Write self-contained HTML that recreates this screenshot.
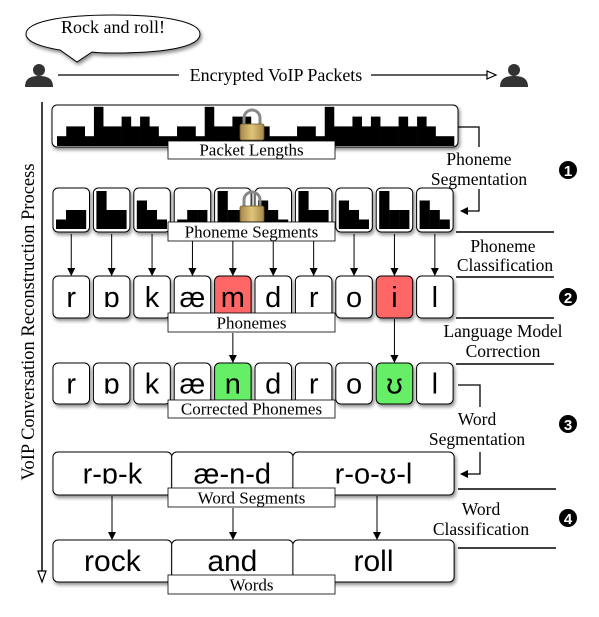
<!DOCTYPE html>
<html><head><meta charset="utf-8">
<style>
html,body{margin:0;padding:0;background:#fff;}
svg{display:block;}
.serif{font-family:"Liberation Serif",serif;}
.sans{font-family:"Liberation Sans","DejaVu Sans",sans-serif;}
</style></head>
<body>
<svg id="d" width="599" height="617" viewBox="0 0 599 617" xmlns="http://www.w3.org/2000/svg">
<defs>
<filter id="sh" x="-10%" y="-10%" width="130%" height="140%"><feDropShadow dx="1.5" dy="2.5" stdDeviation="1.8" flood-color="#000" flood-opacity="0.45"/></filter>
<linearGradient id="lockg" x1="0" x2="1"><stop offset="0" stop-color="#a8884a"/><stop offset="0.5" stop-color="#e0c47c"/><stop offset="1" stop-color="#a8884a"/></linearGradient>
<marker id="ah" markerWidth="8" markerHeight="8" refX="7" refY="4" orient="auto" markerUnits="userSpaceOnUse"><path d="M0,0 L8,4 L0,8 z" fill="#000"/></marker>
</defs>

<g>
<path d="M60,50 C30,45 26,38 26,34 C26,22 60,15 113,15 C166,15 200,22 200,34 C200,46 170,53 113,53 C105,53 98,53 92,52 L77,62 Z" fill="#fff" stroke="#000" stroke-width="1" filter="url(#sh)"/>
<text x="113" y="33" text-anchor="middle" class="serif" font-size="18">Rock and roll!</text>
</g>

<g fill="#333">
<circle cx="39" cy="70" r="6"/><path d="M25,87 C25,78 31,76 39,76 C47,76 53,78 53,87 Z"/>
</g>
<g fill="#333">
<circle cx="514" cy="70" r="6"/><path d="M500,87 C500,78 506,76 514,76 C522,76 528,78 528,87 Z"/>
</g>
<line x1="58" y1="75" x2="179" y2="75" stroke="#000" stroke-width="1.3"/>
<text x="276" y="81" text-anchor="middle" class="serif" font-size="18">Encrypted VoIP Packets</text>
<line x1="371" y1="75" x2="488" y2="75" stroke="#000" stroke-width="1.3"/>
<path d="M487,71 L496,75 L487,79 Z" fill="#fff" stroke="#000" stroke-width="1.2"/>

<g>
<line x1="42" y1="102" x2="42" y2="580" stroke="#000" stroke-width="1.5"/>
<path d="M38,571 L42,582 L46,571 Z" fill="#fff" stroke="#000" stroke-width="1.2"/>
<text transform="translate(34,322) rotate(-90)" text-anchor="middle" class="serif" font-size="18.5">VoIP Conversation Reconstruction Process</text>
</g>

<g id="packetBox">
<rect x="52" y="105" width="406" height="42" rx="5" fill="#fff" stroke="#000" stroke-width="1" filter="url(#sh)"/>
<g id="packetBars"></g>
</g>

<g id="segRow"></g>
<g id="phonRow"></g>
<g id="corrRow"></g>
<g id="wordSegRow"></g>
<g id="wordRow"></g>
<g id="locks"></g>
<g id="labels"></g>

<g class="serif" font-size="17.5" fill="#000">
<path d="M458,127 H479 V147" fill="none" stroke="#000" stroke-width="1.3"/>
<text x="479" y="165" text-anchor="middle">Phoneme</text>
<text x="479" y="185" text-anchor="middle">Segmentation</text>
<path d="M479,189 V211 H461" fill="none" stroke="#000" stroke-width="1.3" marker-end="url(#ah)"/>
<line x1="456" y1="232" x2="554" y2="232" stroke="#000" stroke-width="1.5"/>
<text x="503" y="252" text-anchor="middle">Phoneme</text>
<text x="505" y="271" text-anchor="middle">Classification</text>
<line x1="456" y1="277" x2="554" y2="277" stroke="#000" stroke-width="1.5"/>
<line x1="456" y1="318" x2="554" y2="318" stroke="#000" stroke-width="1.5"/>
<text x="503" y="337" text-anchor="middle">Language Model</text>
<text x="503" y="357" text-anchor="middle">Correction</text>
<line x1="456" y1="364" x2="554" y2="364" stroke="#000" stroke-width="1.5"/>
<path d="M458,385 H480 V407" fill="none" stroke="#000" stroke-width="1.3"/>
<text x="477" y="425" text-anchor="middle">Word</text>
<text x="477" y="445" text-anchor="middle">Segmentation</text>
<path d="M480,452 V474 H461" fill="none" stroke="#000" stroke-width="1.3" marker-end="url(#ah)"/>
<line x1="458" y1="489" x2="556" y2="489" stroke="#000" stroke-width="1.5"/>
<text x="481" y="515" text-anchor="middle">Word</text>
<text x="481" y="535" text-anchor="middle">Classification</text>
<line x1="458" y1="548" x2="556" y2="548" stroke="#000" stroke-width="1.5"/>
</g>
<g class="sans" font-weight="bold">
<g><circle cx="568" cy="170" r="9"/><text x="568" y="176" text-anchor="middle" fill="#fff" font-size="15">1</text></g>
<g><circle cx="568" cy="297" r="9"/><text x="568" y="303" text-anchor="middle" fill="#fff" font-size="15">2</text></g>
<g><circle cx="568" cy="424" r="9"/><text x="568" y="430" text-anchor="middle" fill="#fff" font-size="15">3</text></g>
<g><circle cx="568" cy="518" r="9"/><text x="568" y="524" text-anchor="middle" fill="#fff" font-size="15">4</text></g>
</g>
</svg>
<script>
// ---- data ----
const packetLevels = [1,2,2,1,4,2,2,3,2,3,2,1,1,2,2,1,4,2,2,3,3,2,2,1,1,1,2,2,1,4,2,2,3,2,3,2,2,3,2,3,2,1,1];
const segmentLevels = [[1,2,2],[4,2,2],[3,2,1],[1,2,2],[4,2,2],[3,2,1],[4,2,2],[3,2,1],[4,2,2],[3,2,1]];
const phonemes = ["r","ɒ","k","æ","m","d","r","o","i","l"];
const corrected = ["r","ɒ","k","æ","n","d","r","o","ʊ","l"];
const wrongIdx = [4,8];
const wordSegs = ["r-ɒ-k","æ-n-d","r-o-ʊ-l"];
const wordSegSpans = [[0,2],[3,5],[6,9]];
const words = ["rock","and","roll"];

const NS="http://www.w3.org/2000/svg";
function el(tag,attrs,parent){const e=document.createElementNS(NS,tag);for(const k in attrs)e.setAttribute(k,attrs[k]);parent.appendChild(e);return e;}
const boxX = i => 53 + i*40.4;
const boxW = 36.5;
const pkX = i => 57 + i*(397/packetLevels.length);
const pkH = v => v*9.8;
const segH = v => v*9.5;

const pb=document.getElementById('packetBars');
const bw=397/packetLevels.length;
packetLevels.forEach((v,i)=>{
  const r=el('rect',{x:pkX(i),y:146-pkH(v),width:bw+0.3,height:pkH(v),fill:'#000'},pb);
  
  
});

const sr=document.getElementById('segRow');
segmentLevels.forEach((lv,i)=>{
  const g=el('g',{},sr);
  
  
  el('rect',{x:boxX(i),y:188,width:boxW,height:44,rx:5,fill:'#fff',stroke:'#000','stroke-width':1,filter:'url(#sh)'},g);
  lv.forEach((v,j)=>{
    const b=el('rect',{x:boxX(i)+3+j*10,y:229-segH(v),width:10.2,height:segH(v),fill:'#000'},g);
    
    
  });
  const ar=el('line',{x1:boxX(i)+boxW/2,y1:234,x2:boxX(i)+boxW/2,y2:275,stroke:'#000','stroke-width':1,'marker-end':'url(#ah)'},sr);
  
  
});

function letterRow(parentId,arr,y,h,fillFn,name){
  const p=document.getElementById(parentId);
  arr.forEach((s,i)=>{
    const g=el('g',{},p);
    
    
    el('rect',{x:boxX(i),y:y,width:boxW,height:h,rx:5,fill:fillFn(i),stroke:'#000','stroke-width':1,filter:'url(#sh)'},g);
    const t=el('text',{x:boxX(i)+boxW/2,y:y+h/2+10,'text-anchor':'middle',class:'sans','font-size':29},g);
    t.textContent=s;
  });
}
letterRow('phonRow',phonemes,276,42,i=>wrongIdx.includes(i)?'#ff6666':'#fff','phoneme-box');
letterRow('corrRow',corrected,363,41,i=>wrongIdx.includes(i)?'#66ee66':'#fff','corrected-phoneme-box');
wrongIdx.forEach(i=>{
  const y1 = i===4?333:319;
  const a=el('line',{x1:boxX(i)+boxW/2,y1:y1,x2:boxX(i)+boxW/2,y2:362,stroke:'#000','stroke-width':1,'marker-end':'url(#ah)'},document.getElementById('corrRow'));
  
  
});

function wideRow(parentId,arr,y,h,name,fs){
  const p=document.getElementById(parentId);
  arr.forEach((s,k)=>{
    const [a,b]=wordSegSpans[k];
    const x0=k===0?53:boxX(a)-2.5, x1=boxX(b)+boxW+ (k===2?1:1.5);
    const g=el('g',{},p);
    
    
    el('rect',{x:x0,y:y,width:x1-x0,height:h,rx:5,fill:'#fff',stroke:'#000','stroke-width':1,filter:'url(#sh)'},g);
    const t=el('text',{x:(x0+x1)/2,y:y+h/2+10,'text-anchor':'middle',class:'sans','font-size':fs},g);
    t.textContent=s;
  });
}
wideRow('wordSegRow',wordSegs,452,43,'word-segment-box',29);
wideRow('wordRow',words,540,42,'word-box',30);
[[112,496],[233,508],[377,496]].forEach(([x,y1])=>{
  const a=el('line',{x1:x,y1:y1,x2:x,y2:539,stroke:'#000','stroke-width':1,'marker-end':'url(#ah)'},document.getElementById('wordRow'));
  
  
});

const lk=document.getElementById('locks');
[[252,124],[252,206]].forEach(([cx,y])=>{
  const g=el('g',{},lk);
  
  
  el('path',{d:`M${cx-8},${y} V${y-6} A8,8 0 0 1 ${cx+8},${y-6} V${y}`,fill:'none',stroke:'#888','stroke-width':3},g);
  el('rect',{x:cx-12,y:y,width:24,height:16,rx:2,fill:'url(#lockg)',stroke:'#6b5427','stroke-width':0.8},g);
});

const lb=document.getElementById('labels');
[["Packet Lengths",141,159,'packet-lengths-label'],["Phoneme Segments",222,241,'phoneme-segments-label'],["Phonemes",313,332,'phonemes-label'],["Corrected Phonemes",400,418,'corrected-phonemes-label'],["Word Segments",488,507,'word-segments-label'],["Words",575,594,'words-label']].forEach(([s,y0,y1,n])=>{
  const g=el('g',{},lb);
  
  
  el('rect',{x:168,y:y0,width:167,height:y1-y0,fill:'#fff',stroke:'#000','stroke-width':0.8},g);
  const t=el('text',{x:251.5,y:y1-3.5,'text-anchor':'middle',class:'serif','font-size':17},g);
  t.textContent=s;
});
</script>
</body></html>
